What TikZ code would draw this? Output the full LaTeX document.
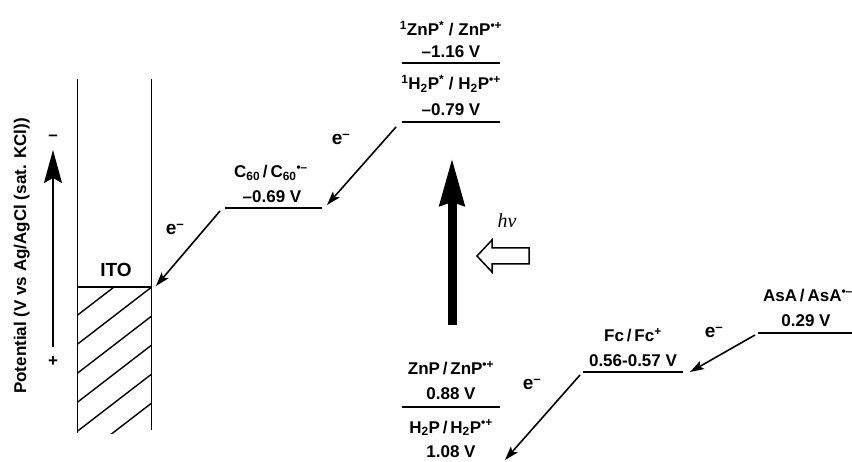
\documentclass[tikz,border=0pt]{standalone}
\usepackage{fontspec}
\setmainfont{Liberation Sans}
\newfontfamily\hvfont{Liberation Serif}
\usetikzlibrary{arrows.meta}
\begin{document}
\begin{tikzpicture}[x=1pt,y=-1pt,
  lvl/.style={line width=2pt},
  wall/.style={line width=1.4pt},
  eflow/.style={line width=1.6pt,-{Stealth[length=14pt,width=9pt,inset=3pt]}},
  txt/.style={font=\fontsize{17}{20}\selectfont\bfseries, anchor=base, inner sep=0pt},
  elab/.style={font=\fontsize{19}{21}\selectfont\bfseries, anchor=base, inner sep=0pt},
]
\useasboundingbox (0,0) rectangle (852,462);

% ITO electrode
\coordinate (wltop) at (77.7,79);
\coordinate (wlbot) at (77.7,433);
\coordinate (wrtop) at (151.7,79);
\coordinate (wrbot) at (151.7,430);
\coordinate (itol) at (77.7,287);
\coordinate (itor) at (151.7,287);
\draw[wall] (wltop) -- (wlbot);
\draw[wall] (wrtop) -- (wrbot);
\draw[wall] (itol) -- (itor);
\begin{scope}
  \clip (77.7,287) rectangle (151.7,433);
  \foreach \c in {315,344,373,402,431,460}
    \draw[wall] (77.7,\c) -- ++(74,-57);
\end{scope}
\node[txt, font=\fontsize{19}{21}\selectfont\bfseries] (ito) at (116,277) {ITO};

% potential axis
\coordinate (pas) at (53,347);
\coordinate (pae) at (53,150);
\draw[line width=1.6pt,-{Stealth[length=33pt,width=18pt,inset=5pt]}] (pas) -- (pae);
\node[font=\fontsize{17}{20}\selectfont\bfseries, inner sep=0pt] (minus) at (53,138) {–};
\node[font=\fontsize{17}{20}\selectfont\bfseries, inner sep=0pt] (plus) at (53,362) {+};
\node[txt, rotate=90] (axis) at (26,256) {Potential (V vs Ag/AgCl (sat. KCl))};

% C60 level
\coordinate (c60l) at (225,208);
\coordinate (c60r) at (322,208);
\draw[lvl] (c60l) -- (c60r);
\node[txt] (c60n) at (271,178) {C\textsubscript{60}\,/\,C\textsubscript{60}\textsuperscript{•–}};
\node[txt] (c60v) at (272,203) {–0.69 V};

% excited porphyrin levels
\coordinate (z1l) at (402,63);
\coordinate (z1r) at (500,63);
\draw[lvl] (z1l) -- (z1r);
\node[txt] (z1n) at (451,36) {\textsuperscript{1}ZnP\textsuperscript{*} / ZnP\textsuperscript{•+}};
\node[txt] (z1v) at (451,58) {–1.16 V};
\coordinate (h1l) at (402,122);
\coordinate (h1r) at (500,122);
\draw[lvl] (h1l) -- (h1r);
\node[txt] (h1n) at (451,90) {\textsuperscript{1}H\textsubscript{2}P\textsuperscript{*} / H\textsubscript{2}P\textsuperscript{•+}};
\node[txt] (h1v) at (451,116) {–0.79 V};

% ground porphyrin levels
\node[txt] (z0n) at (451,375) {ZnP\,/\,ZnP\textsuperscript{•+}};
\node[txt] (z0v) at (451,400) {0.88 V};
\coordinate (z0l) at (402,407);
\coordinate (z0r) at (500,407);
\draw[lvl] (z0l) -- (z0r);
\node[txt] (h0n) at (451,433) {H\textsubscript{2}P\,/\,H\textsubscript{2}P\textsuperscript{•+}};
\node[txt] (h0v) at (451,457) {1.08 V};

% Fc level
\coordinate (fcl) at (583,372);
\coordinate (fcr) at (683,372);
\draw[lvl] (fcl) -- (fcr);
\node[txt] (fcn) at (633,342) {Fc\,/\,Fc\textsuperscript{+}};
\node[txt] (fcv) at (633,367) {0.56-0.57 V};

% AsA level
\coordinate (asl) at (758,333);
\coordinate (asr) at (860,333);
\draw[lvl] (asl) -- (asr);
\node[txt] (asn) at (808,302) {AsA\,/\,AsA\textsuperscript{•–}};
\node[txt] (asv) at (806,327) {0.29 V};

% electron transfer arrows
\coordinate (a1s) at (396,127);
\coordinate (a1e) at (327,205);
\draw[eflow] (a1s) -- (a1e);
\node[elab] (e1) at (341,145) {e\textsuperscript{–}};
\coordinate (a2s) at (220,211);
\coordinate (a2e) at (156,286);
\draw[eflow] (a2s) -- (a2e);
\node[elab] (e2) at (175,235) {e\textsuperscript{–}};
\coordinate (a3s) at (755,335);
\coordinate (a3e) at (690,372);
\draw[eflow] (a3s) -- (a3e);
\node[elab] (e3) at (714,338) {e\textsuperscript{–}};
\coordinate (a4s) at (580,375);
\coordinate (a4e) at (505,460);
\draw[eflow] (a4s) -- (a4e);
\node[elab] (e4) at (532,390) {e\textsuperscript{–}};

% excitation
\coordinate (exs) at (452,325);
\coordinate (exe) at (452,158);
\draw[line width=9pt,-{Stealth[length=47pt,width=24pt,inset=3pt]}] (exs) -- (exe);
\draw[line width=1.5pt, line join=miter] (477,256) -- (492,240) -- (492,248) -- (529,248) -- (529,264) -- (492,264) -- (492,272) -- cycle;
\node[font=\hvfont\itshape\fontsize{20}{22}\selectfont, anchor=base, inner sep=0pt] (hv) at (507,228) {hν};
\end{tikzpicture}
\end{document}
